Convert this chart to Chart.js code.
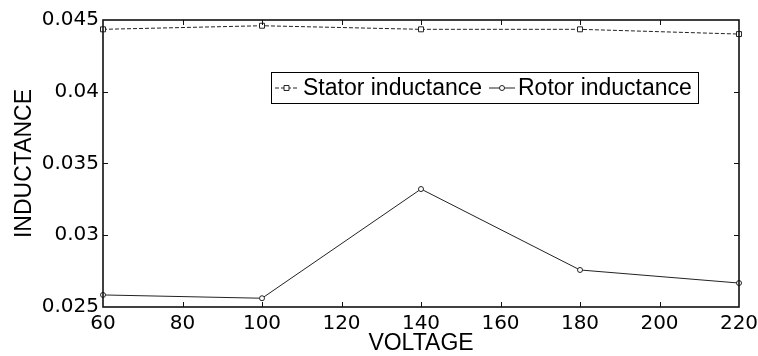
<!DOCTYPE html>
<html>
<head>
<meta charset="utf-8">
<script src="https://cdn.jsdelivr.net/npm/chart.js@4/dist/chart.umd.min.js"></script>
<style>
  body { margin: 0; background: #fff; }
  #wrap { width: 758px; height: 356px; }
</style>
</head>
<body>
<div id="wrap"><canvas id="chart" width="758" height="356"></canvas></div>
<script>
// values
const voltages = [60, 100, 140, 180, 220];
const statorInductance = [0.04435, 0.0446, 0.04435, 0.04435, 0.04402];
const rotorInductance = [0.02584, 0.02561, 0.03322, 0.02758, 0.02667];
const seriesNames = ['Stator inductance', 'Rotor inductance'];
const xTitle = 'VOLTAGE';
const yTitle = 'INDUCTANCE';

const tickFont = { family: 'DejaVu Sans', size: 20 };
const labelFont = 'Liberation Sans';

function toPoints(ys) {
    return voltages.map((v, i) => ({ x: v, y: ys[i] }));
}

// box round the plot, inward ticks (matlab style)
const frame = {
    id: 'frame',
    afterDraw(chart) {
        const { ctx, chartArea: a, scales } = chart;
        ctx.save();
        ctx.strokeStyle = '#111';
        ctx.lineWidth = 1;
        const len = 5;
        ctx.beginPath();
        scales.x.ticks.forEach(t => {
            const px = Math.round(scales.x.getPixelForValue(t.value)) + 0.5;
            if (px <= a.left + 1 || px >= a.right - 1) return;
            ctx.moveTo(px, a.bottom); ctx.lineTo(px, a.bottom - len);
            ctx.moveTo(px, a.top); ctx.lineTo(px, a.top + len);
        });
        scales.y.ticks.forEach(t => {
            const py = Math.round(scales.y.getPixelForValue(t.value)) + 0.5;
            if (py <= a.top + 1 || py >= a.bottom - 1) return;
            ctx.moveTo(a.left, py); ctx.lineTo(a.left + len, py);
            ctx.moveTo(a.right, py); ctx.lineTo(a.right - len, py);
        });
        ctx.stroke();
        ctx.lineWidth = 1.6;
        ctx.strokeRect(a.left, a.top, a.right - a.left, a.bottom - a.top);
        ctx.restore();
    }
};

// legend box inside the plot
const insideLegend = {
    id: 'insideLegend',
    afterDraw(chart) {
        const { ctx, chartArea: a } = chart;
        const ds = chart.data.datasets;
        const x0 = a.left + 168, y0 = a.top + 52, w = 427, h = 31;
        ctx.save();
        ctx.fillStyle = '#fff';
        ctx.fillRect(x0, y0, w, h);
        ctx.strokeStyle = '#000';
        ctx.lineWidth = 1;
        ctx.strokeRect(x0 + 0.5, y0 + 0.5, w, h);
        ctx.font = '23px "' + labelFont + '"';
        ctx.textBaseline = 'middle';
        const cy = y0 + h / 2 + 0.5;
        const items = [
            { sx: x0 + 4, ex: x0 + 27, tx: x0 + 32 },
            { sx: x0 + 218, ex: x0 + 244, tx: x0 + 247 }
        ];
        items.forEach((it, i) => {
            const d = ds[i];
            ctx.strokeStyle = d.borderColor;
            ctx.lineWidth = 1;
            ctx.setLineDash(d.borderDash || []);
            ctx.beginPath();
            ctx.moveTo(it.sx, cy); ctx.lineTo(it.ex, cy);
            ctx.stroke();
            ctx.setLineDash([]);
            ctx.fillStyle = d.pointBackgroundColor;
            ctx.strokeStyle = d.pointBorderColor;
            Chart.helpers.drawPoint(ctx, {
                pointStyle: d.pointStyle, radius: d.pointRadius, borderWidth: 1, rotation: 0
            }, (it.sx + it.ex) / 2, cy);
            ctx.fillStyle = '#000';
            ctx.fillText(seriesNames[i], it.tx, cy + 1);
        });
        ctx.restore();
    }
};

new Chart(document.getElementById('chart'), {
    type: 'line',
    data: {
        datasets: [
            {
                label: seriesNames[0],
                data: toPoints(statorInductance),
                borderColor: '#222',
                borderWidth: 1,
                borderDash: [4, 2],
                pointStyle: 'rect',
                pointRadius: 3.5,
                pointBorderWidth: 1,
                pointBorderColor: '#222',
                pointBackgroundColor: '#fff',
                clip: false
            },
            {
                label: seriesNames[1],
                data: toPoints(rotorInductance),
                borderColor: '#222',
                borderWidth: 1,
                pointStyle: 'circle',
                pointRadius: 2.5,
                pointBorderWidth: 1,
                pointBorderColor: '#222',
                pointBackgroundColor: '#fff',
                clip: false
            }
        ]
    },
    options: {
        responsive: false,
        animation: false,
        layout: { padding: { top: 20, right: 19, left: 0, bottom: 0 } },
        plugins: { legend: { display: false }, tooltip: { enabled: false } },
        scales: {
            x: {
                type: 'linear',
                min: 60, max: 220,
                grid: { display: false, drawTicks: false },
                border: { display: false },
                ticks: { stepSize: 20, color: '#000', font: tickFont, padding: 5, maxRotation: 0 },
                title: { display: true, text: xTitle, color: '#000', font: { family: labelFont, size: 23, lineHeight: 1.1 }, padding: 0 },
                afterFit(s) { s.height = 49; s.paddingLeft = 0; s.paddingRight = 0; }
            },
            y: {
                min: 0.025, max: 0.045,
                grid: { display: false, drawTicks: false },
                border: { display: false },
                ticks: {
                    stepSize: 0.005, color: '#000', font: tickFont, padding: 4,
                    callback: v => String(parseFloat(v.toFixed(3)))
                },
                title: { display: true, text: yTitle, color: '#000', font: { family: labelFont, size: 23 }, padding: { top: 11, bottom: 0 } },
                afterFit(s) { s.width = 103; s.paddingTop = 0; s.paddingBottom = 0; }
            }
        }
    },
    plugins: [frame, insideLegend]
});
</script>
</body>
</html>
